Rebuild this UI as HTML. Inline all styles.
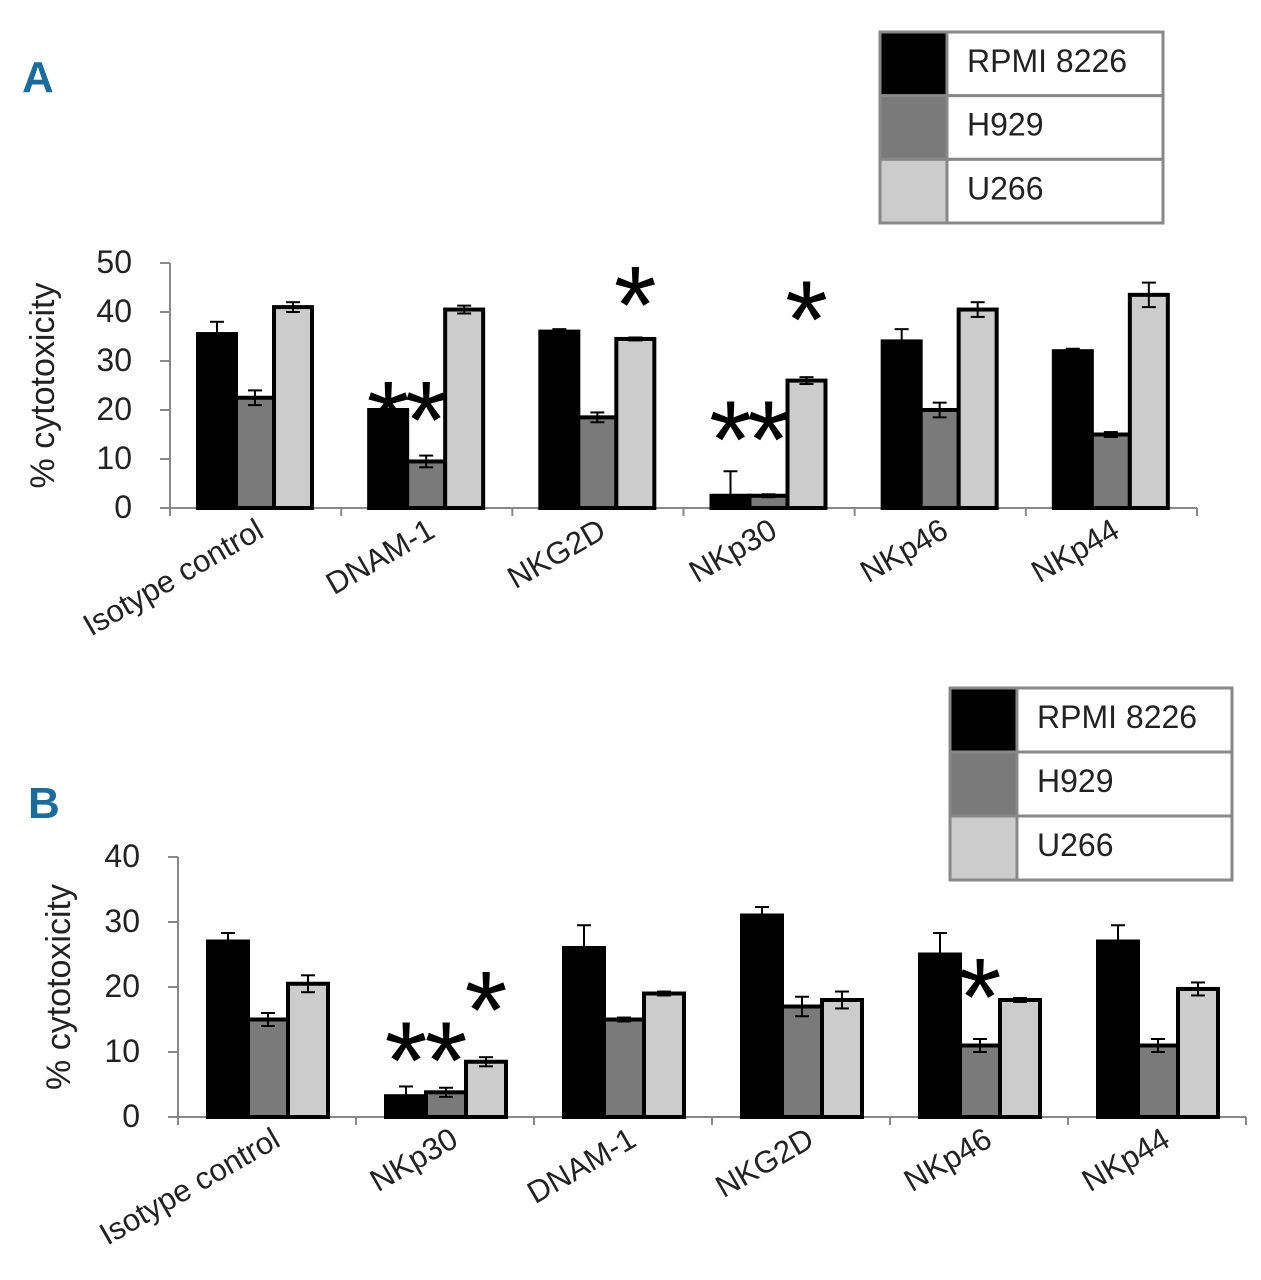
<!DOCTYPE html>
<html><head><meta charset="utf-8"><style>
html,body{margin:0;padding:0;background:#fff}
svg{display:block}
text{font-family:"Liberation Sans Narrow","Liberation Sans",sans-serif;}
</style></head><body>
<svg id="c" width="1261" height="1280" viewBox="0 0 1261 1280" xmlns="http://www.w3.org/2000/svg"></svg>
<script>
const seriesNames=["RPMI 8226","H929","U266"];
const seriesColors=["#000000","#7a7a7a","#cccccc"];
const catsA=["Isotype control","DNAM-1","NKG2D","NKp30","NKp46","NKp44"];
const rpmiA=[35.5,20,36,2.5,34,32];
const h929A=[22.5,9.5,18.5,2.5,20,15];
const u266A=[41,40.5,34.5,26,40.5,43.5];
const rpmiErrA=[2.5,0,0.5,5,2.5,0.5];
const h929ErrA=[1.5,1.2,1,0.3,1.5,0.5];
const u266ErrA=[1,0.8,0.3,0.7,1.5,2.5];
const ticksA=[0,10,20,30,40,50];
const catsB=["Isotype control","NKp30","DNAM-1","NKG2D","NKp46","NKp44"];
const rpmiB=[27,3.2,26,31,25,27];
const h929B=[15,3.8,15,17,11,11];
const u266B=[20.5,8.5,19,18,18,19.7];
const rpmiErrB=[1.3,1.5,3.5,1.3,3.3,2.5];
const h929ErrB=[1,0.7,0.3,1.5,1,1];
const u266ErrB=[1.3,0.7,0.3,1.3,0.3,1];
const ticksB=[0,10,20,30,40];
// annotations: [category index, series index, y-level (axis units), text]
const starsA=[[1,0,23,"*"],[1,1,23,"*"],[2,2,46.5,"*"],[3,0,19,"*"],[3,1,19,"*"],[3,2,43.5,"*"]];
const starsB=[[1,0,12.5,"*"],[1,1,12.5,"*"],[1,2,20.3,"*"],[4,1,22.3,"*"]];

const NS="http://www.w3.org/2000/svg";
const svg=document.getElementById('c');
function mk(tag,attrs,parent,txt){const e=document.createElementNS(NS,tag);for(const k in attrs)e.setAttribute(k,attrs[k]);if(txt!==undefined)e.textContent=txt;(parent||svg).appendChild(e);return e;}

function panel(o){
  const g=mk('g',{});
  
  
  const y=v=>o.y0-(v/o.ymax)*(o.y0-o.ytop);
  const gw=(o.x1-o.x0)/o.cats.length;
  const ax=mk('line',{x1:o.x0,y1:o.ytop,x2:o.x0,y2:o.y0,stroke:'#888','stroke-width':2},g);
  
  const xa=mk('line',{x1:o.x0,y1:o.y0,x2:o.x1,y2:o.y0,stroke:'#888','stroke-width':2},g);
  
  o.ticks.forEach(t=>{
    mk('line',{x1:o.x0-10,y1:y(t),x2:o.x0,y2:y(t),stroke:'#888','stroke-width':2},g);
    const tl=mk('text',{x:o.x0-38,y:y(t)+10,'font-size':32,'text-anchor':'end',fill:'#222'},g,String(t));
    
  });
  for(let i=0;i<=o.cats.length;i++)mk('line',{x1:o.x0+i*gw,y1:o.y0,x2:o.x0+i*gw,y2:o.y0+8,stroke:'#888','stroke-width':2},g);
  const bw=o.bw, off=o.off;
  const bx=(i,s)=>o.x0+i*gw+off+s*bw;
  o.series.forEach((vals,s)=>{
    vals.forEach((v,i)=>{
      const r=mk('rect',{x:bx(i,s),y:y(v),width:bw,height:o.y0-y(v),fill:seriesColors[s],stroke:'#000','stroke-width':4},g);
      
      
      const e=o.errs[s][i];
      if(e>0){const cx=bx(i,s)+bw/2;const lo=Math.max(0,v-e);
        mk('line',{x1:cx,y1:y(v+e),x2:cx,y2:y(lo),stroke:'#000','stroke-width':2},g);
        mk('line',{x1:cx-7,y1:y(v+e),x2:cx+7,y2:y(v+e),stroke:'#000','stroke-width':2},g);
        mk('line',{x1:cx-7,y1:y(lo),x2:cx+7,y2:y(lo),stroke:'#000','stroke-width':2},g);}
    });
  });
  const fs=110;
  o.stars.forEach(st=>{const [i,s,lv,t]=st;
    const a=mk('text',{x:bx(i,s)+bw/2,y:y(lv)+0.57*fs,'font-size':fs,'text-anchor':'middle','font-family':'Liberation Sans',fill:'#000'},g,t);
    });
  o.cats.forEach((c,i)=>{const cx=o.x0+(i+0.5)*gw+o.lblShift, cy=o.y0+28;
    const t=mk('text',{x:cx,y:cy,'font-size':31,'text-anchor':'end',fill:'#222',transform:`rotate(-30 ${cx} ${cy})`},g,c);
    });
  const yt=mk('text',{x:o.titleX,y:(o.ytop+o.y0)/2,'font-size':34,'text-anchor':'middle',fill:'#222',transform:`rotate(-90 ${o.titleX} ${(o.ytop+o.y0)/2})`},g,'% cytotoxicity');
  
  const pl=mk('text',{x:o.plx,y:o.ply,'font-size':44,'font-weight':'bold',fill:'#1a6c9c'},g,o.plabel);
  
  const lg=mk('g',{},g);
  const rh=(o.lh)/3;
  seriesNames.forEach((n,k)=>{
    mk('rect',{x:o.lx,y:o.ly+k*rh,width:67,height:rh,fill:seriesColors[k],stroke:'#888','stroke-width':3},lg);
    mk('rect',{x:o.lx+67,y:o.ly+k*rh,width:o.lw-67,height:rh,fill:'#fff',stroke:'#888','stroke-width':3},lg);
    const t=mk('text',{x:o.lx+87,y:o.ly+k*rh+40,'font-size':32,fill:'#222'},lg,n);
    
  });
}
panel({name:'panel-a',cats:catsA,series:[rpmiA,h929A,u266A],errs:[rpmiErrA,h929ErrA,u266ErrA],ticks:ticksA,ymax:50,
  x0:170,x1:1197,y0:508,ytop:263,bw:38,off:28,stars:starsA,lblShift:10,titleX:54,plabel:'A',plx:22,ply:92,
  lx:880,ly:32,lw:283,lh:191});
panel({name:'panel-b',cats:catsB,series:[rpmiB,h929B,u266B],errs:[rpmiErrB,h929ErrB,u266ErrB],ticks:ticksB,ymax:40,
  x0:178,x1:1246,y0:1117,ytop:857,bw:40,off:30,stars:starsB,lblShift:15,titleX:70,plabel:'B',plx:28,ply:818,
  lx:950,ly:688,lw:282,lh:192});
</script>
</body></html>
